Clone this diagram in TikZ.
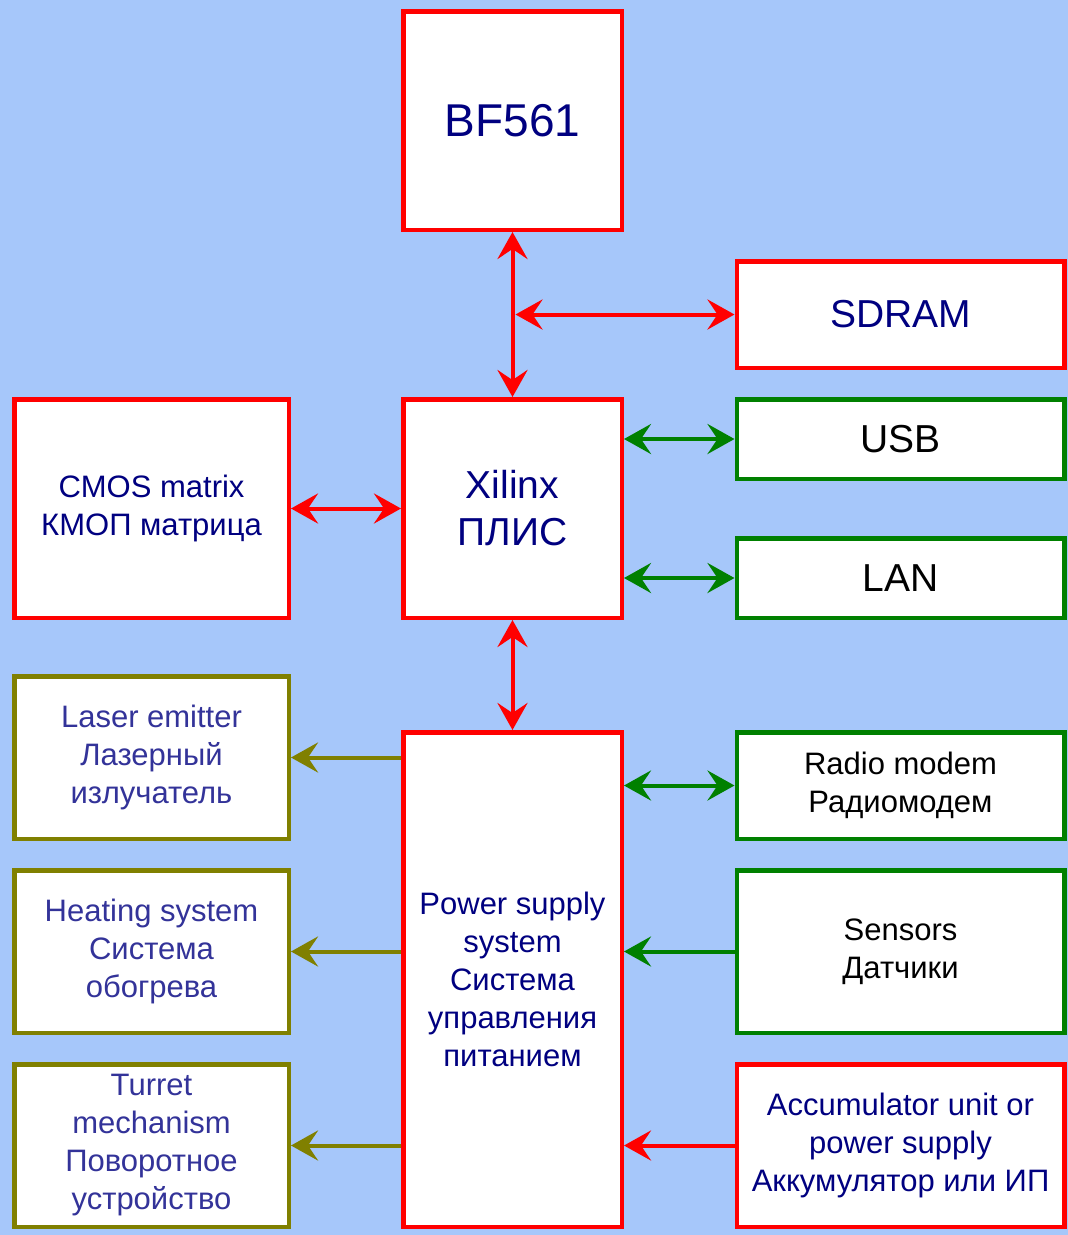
\documentclass[tikz,border=0pt]{standalone}
\usepackage{fontspec}
\setmainfont{Liberation Sans}
\usetikzlibrary{arrows.meta}
\definecolor{bgblue}{RGB}{166,199,250}
\definecolor{bred}{RGB}{255,0,0}
\definecolor{bgreen}{RGB}{0,128,0}
\definecolor{bolive}{RGB}{128,128,0}
\definecolor{tnavy}{RGB}{0,0,128}
\definecolor{tblue}{RGB}{51,51,153}
\tikzset{
  box/.style={rectangle, draw, line width=4.5pt, fill=white, align=center, inner sep=2pt},
  redbox/.style={box, draw=bred, text=tnavy},
  greenbox/.style={box, draw=bgreen, text=black},
  olivebox/.style={box, draw=bolive, text=tblue},
  big/.style={font=\fontsize{46}{55}\selectfont},
  mid/.style={font=\fontsize{39}{47}\selectfont},
  small/.style={font=\fontsize{31}{38}\selectfont},
  tip/.tip={Stealth[length=27pt,width=30pt,inset=10pt]},
  both/.style={line width=4pt, tip-tip},
  one/.style={line width=4pt, -tip},
}
\begin{document}
\begin{tikzpicture}[x=1pt,y=-1pt]
\fill[bgblue] (0,0) rectangle (1068,1235);
\useasboundingbox (0,0) rectangle (1068,1235);
% nodes
\node[redbox, big, minimum width=218.5, minimum height=218.5] (bf) at (512.5,120.5) {BF561};
\node[redbox, mid, minimum width=327.5, minimum height=106.5] (sdram) at (900.5,314.5) {SDRAM};
\node[greenbox, mid, minimum width=327.5, minimum height=79.5] (usb) at (900.5,439) {USB};
\node[greenbox, mid, minimum width=327.5, minimum height=79.5] (lan) at (900.5,578) {LAN};
\node[redbox, small, minimum width=274.5, minimum height=218.5] (cmos) at (151.5,508.5) {CMOS matrix\\КМОП матрица};
\node[redbox, mid, minimum width=218.5, minimum height=218.5] (xil) at (512.5,508.5) {Xilinx\\ПЛИС};
\node[olivebox, small, minimum width=274.5, minimum height=162.5] (laser) at (151.5,757.5) {Laser emitter\\Лазерный\\излучатель};
\node[olivebox, small, minimum width=274.5, minimum height=162.5] (heat) at (151.5,951.5) {Heating system\\Система\\обогрева};
\node[olivebox, small, minimum width=274.5, minimum height=162.5] (turret) at (151.5,1145.5) {Turret\\mechanism\\Поворотное\\устройство};
\node[redbox, small, minimum width=218.5, minimum height=494.5] (pow) at (512.5,979.5) {Power supply\\system\\Система\\управления\\питанием};
\node[greenbox, small, minimum width=327.5, minimum height=106.5] (radio) at (900.5,785.5) {Radio modem\\Радиомодем};
\node[greenbox, small, minimum width=327.5, minimum height=162.5] (sens) at (900.5,951.5) {Sensors\\Датчики};
\node[redbox, small, minimum width=327.5, minimum height=162.5] (acc) at (900.5,1145.5) {Accumulator unit or\\power supply\\Аккумулятор или ИП};
% connectors
\draw[both, bred] (bf.south) -- (xil.north);
\coordinate (tap) at ([xshift=3pt]bf.south |- sdram.west);
\draw[both, bred] (tap) -- (sdram.west);
\draw[both, bred] (cmos.east) -- (xil.west);
\draw[both, bgreen] (xil.east |- usb.west) -- (usb.west);
\draw[both, bgreen] (xil.east |- lan.west) -- (lan.west);
\draw[both, bred] (xil.south) -- (pow.north);
\draw[one, bolive] (pow.west |- laser.east) -- (laser.east);
\draw[one, bolive] (pow.west |- heat.east) -- (heat.east);
\draw[one, bolive] (pow.west |- turret.east) -- (turret.east);
\draw[both, bgreen] (pow.east |- radio.west) -- (radio.west);
\draw[one, bgreen] (sens.west) -- (pow.east |- sens.west);
\draw[one, bred] (acc.west) -- (pow.east |- acc.west);
\end{tikzpicture}
\end{document}
